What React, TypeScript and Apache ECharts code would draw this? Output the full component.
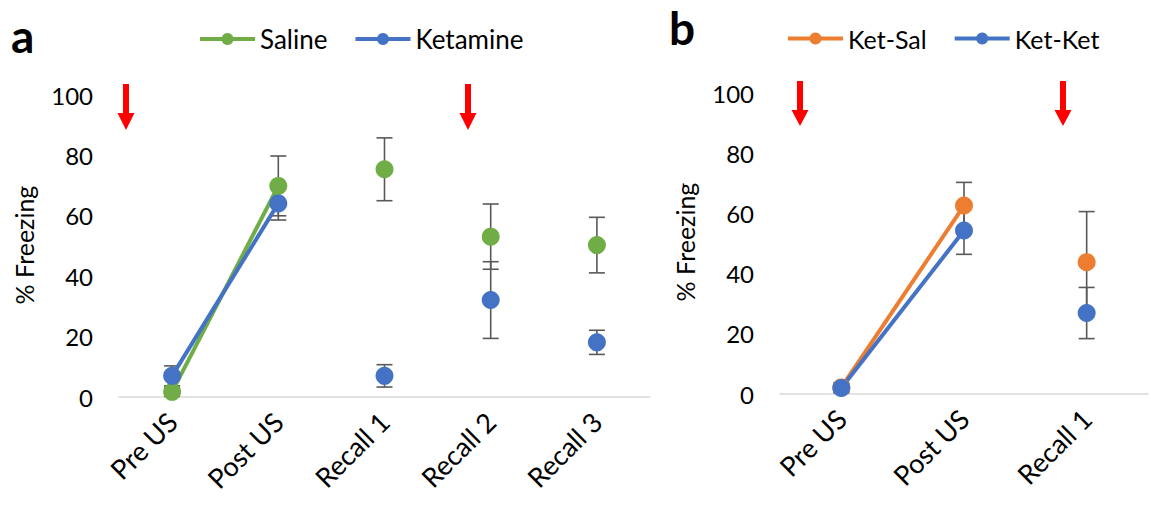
import React, { useEffect, useRef } from "react";
import * as echarts from "echarts";

const categoriesA = ["Pre US", "Post US", "Recall 1", "Recall 2", "Recall 3"];
const salineMean = [1.7, 69.9, 75.4, 53.1, 50.3];
const salineErr = [1.5, 9.9, 10.4, 10.8, 9.2];
const ketamineMean = [7.0, 64.1, 7.0, 32.1, 18.1];
const ketamineErr = [3.3, 5.5, 3.7, 12.7, 4.0];

const categoriesB = ["Pre US", "Post US", "Recall 1"];
const ketSalMean = [2.2, 62.6, 43.8];
const ketSalErr = [1.4, 7.7, 16.8];
const ketKetMean = [2.0, 54.3, 26.9];
const ketKetErr = [1.6, 7.9, 8.5];

const yTicks = [0, 20, 40, 60, 80, 100];
const connectedCount = 2;

const GREEN = "#70AD47";
const BLUE = "#4472C4";
const ORANGE = "#ED7D31";
const ERR = "#595959";
const FONT = "Lato, 'Open Sans', sans-serif";

function errData(mean: number[], err: number[]) {
  return mean.map((m, i) => [i, m - err[i], m + err[i]]);
}

function errSeries(mean: number[], err: number[], axis: number) {
  return {
    type: "custom",
    xAxisIndex: axis,
    yAxisIndex: axis,
    z: 1,
    silent: true,
    data: errData(mean, err),
    encode: { x: 0, y: [1, 2] },
    renderItem: (params: any, api: any) => {
      const x = api.value(0);
      const lo = api.value(1);
      const hi = api.value(2);
      const p1 = api.coord([x, hi]);
      const p2 = api.coord([x, lo]);
      const w = 8;
      const st = { stroke: ERR, lineWidth: 1.6 };
      return {
        type: "group",
        children: [
          { type: "line", shape: { x1: p1[0], y1: p1[1], x2: p2[0], y2: p2[1] }, style: st },
          { type: "line", shape: { x1: p1[0] - w, y1: p1[1], x2: p1[0] + w, y2: p1[1] }, style: st },
          { type: "line", shape: { x1: p2[0] - w, y1: p2[1], x2: p2[0] + w, y2: p2[1] }, style: st },
        ],
      };
    },
  };
}

function groupSeries(name: string, mean: number[], color: string, axis: number) {
  return [
    {
      name,
      type: "line",
      xAxisIndex: axis,
      yAxisIndex: axis,
      z: 3,
      data: mean.map((v, i) => (i < connectedCount ? v : "-")),
      symbol: "circle",
      symbolSize: 18,
      showSymbol: true,
      lineStyle: { color, width: 4 },
      itemStyle: { color, opacity: 1 },
    },
    {
      name: name + " ",
      type: "scatter",
      xAxisIndex: axis,
      yAxisIndex: axis,
      z: 3,
      data: mean.map((v, i) => (i >= connectedCount ? v : "-")),
      symbol: "circle",
      symbolSize: 18,
      itemStyle: { color, opacity: 1 },
    },
  ];
}

function arrow(cx: number, top: number, headStart: number, tip: number) {
  return {
    type: "polygon",
    shape: {
      points: [
        [cx - 3, top],
        [cx + 3, top],
        [cx + 3, headStart],
        [cx + 8.5, headStart],
        [cx, tip],
        [cx - 8.5, headStart],
        [cx - 3, headStart],
      ],
    },
    style: { fill: "#FF0000" },
  };
}

function xAxis(cats: string[], grid: number) {
  return {
    type: "category",
    gridIndex: grid,
    data: cats,
    boundaryGap: true,
    axisTick: { show: false },
    axisLine: { lineStyle: { color: "#D9D9D9", width: 1.5 } },
    axisLabel: { rotate: 45, interval: 0, fontSize: 27, color: "#000", margin: 20, fontFamily: FONT },
  };
}

function yAxis(grid: number) {
  return {
    type: "value",
    gridIndex: grid,
    min: yTicks[0],
    max: yTicks[yTicks.length - 1],
    interval: 20,
    splitLine: { show: false },
    axisLine: { show: false },
    axisTick: { show: false },
    axisLabel: { fontSize: 24, color: "#000", margin: 26, fontFamily: FONT },
  };
}

function legend(names: string[], left: number, fontSize: number) {
  return {
    data: names,
    left,
    top: 21,
    itemWidth: 55,
    itemHeight: 15,
    itemGap: 26,
    lineStyle: { width: 4 },
    textStyle: { fontSize, color: "#000", fontFamily: FONT },
  };
}

export default function App() {
  const ref = useRef<HTMLDivElement>(null);
  useEffect(() => {
    if (!ref.current) return;
    const chart = echarts.init(ref.current, null, { renderer: "svg" });
    chart.setOption({
      animation: false,
      backgroundColor: "#fff",
      textStyle: { fontFamily: FONT },
      grid: [
        { left: 119, top: 95, width: 531, height: 302 },
        { left: 780, top: 93, width: 368, height: 301 },
      ],
      xAxis: [xAxis(categoriesA, 0), xAxis(categoriesB, 1)],
      yAxis: [yAxis(0), yAxis(1)],
      legend: [legend(["Saline", "Ketamine"], 193, 26), legend(["Ket-Sal", "Ket-Ket"], 781, 25)],
      graphic: [
        { type: "text", left: 11, top: 12, style: { text: "a", font: `bold 46px ${FONT}`, fill: "#000" } },
        { type: "text", left: 669, top: 4, style: { text: "b", font: `bold 46px ${FONT}`, fill: "#000" } },
        {
          type: "text",
          x: 24,
          y: 245,
          rotation: Math.PI / 2,
          style: { text: "% Freezing", font: `25px ${FONT}`, fill: "#000", align: "center", verticalAlign: "middle" },
        },
        {
          type: "text",
          x: 685,
          y: 242,
          rotation: Math.PI / 2,
          style: { text: "% Freezing", font: `25px ${FONT}`, fill: "#000", align: "center", verticalAlign: "middle" },
        },
        arrow(126, 84, 113, 130),
        arrow(468, 84, 113, 130),
        arrow(800, 81, 110, 126),
        arrow(1063, 81, 110, 126),
      ],
      series: [
        errSeries(salineMean, salineErr, 0),
        errSeries(ketamineMean, ketamineErr, 0),
        ...groupSeries("Saline", salineMean, GREEN, 0),
        ...groupSeries("Ketamine", ketamineMean, BLUE, 0),
        errSeries(ketSalMean, ketSalErr, 1),
        errSeries(ketKetMean, ketKetErr, 1),
        ...groupSeries("Ket-Sal", ketSalMean, ORANGE, 1),
        ...groupSeries("Ket-Ket", ketKetMean, BLUE, 1),
      ],
    });
    return () => chart.dispose();
  }, []);
  return (
    <div
      ref={ref}
      style={{ position: "fixed", left: 0, top: 0, width: 1151, height: 505, background: "#fff" }}
    />
  );
}
